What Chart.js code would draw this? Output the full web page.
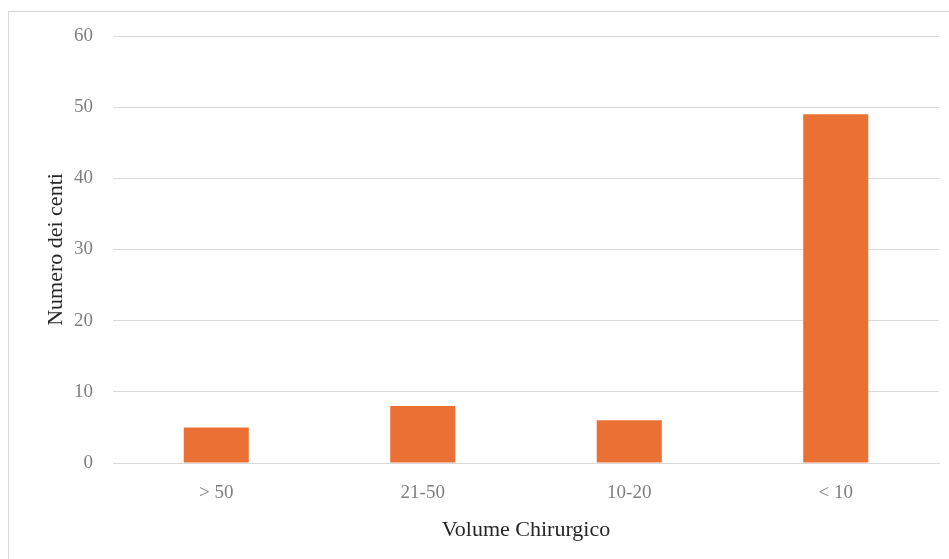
<!DOCTYPE html>
<html>
<head>
<meta charset="utf-8">
<script src="https://cdn.jsdelivr.net/npm/chart.js@4"></script>
<style>
  html, body { margin: 0; padding: 0; background: #fff; overflow: hidden; }
  #frame { position: absolute; left: 8px; top: 11px; width: 1000px; height: 600px; border: 1px solid #d9d9d9; }
  #wrap { position: absolute; left: 0; top: 0; width: 949px; height: 559px; }
</style>
</head>
<body>
<div id="frame"></div>
<div id="wrap"><canvas id="chart"></canvas></div>
<script>
// Volume chirurgico per centro
const categories = ['> 50', '21-50', '10-20', '< 10'];
const centri = [5, 8, 6, 49];
const yTicks = [0, 10, 20, 30, 40, 50, 60];

const ctx = document.getElementById('chart').getContext('2d');
const chart = new Chart(ctx, {
    type: 'bar',
    data: {
        labels: categories,
        datasets: [{
            label: 'Numero dei centri',
            data: centri,
            backgroundColor: '#ea7133',
            borderWidth: 0,
            categoryPercentage: 1,
            barPercentage: 0.315,
        }]
    },
    options: {
        responsive: true,
        maintainAspectRatio: false,
        animation: false,
        layout: { padding: { left: 39, right: 10, top: 36, bottom: 12 } },
        plugins: { legend: { display: false }, tooltip: { enabled: false } },
        scales: {
            x: {
                grid: { display: false },
                border: { color: '#d9d9d9', width: 1 },
                ticks: { color: '#7f7f7f', padding: 11, font: { family: 'Liberation Serif', size: 19 } },
                title: { display: true, text: 'Volume Chirurgico', color: '#262626', padding: { top: 10 }, font: { family: 'Liberation Serif', size: 22 } },
                afterFit: function (scale) { scale.height = 559 - 463 - 12; }
            },
            y: {
                min: 0,
                max: 60,
                afterBuildTicks: function (scale) { scale.ticks = yTicks.map(v => ({ value: v })); },
                grid: { color: '#d9d9d9', lineWidth: 1, drawTicks: false },
                border: { display: false },
                ticks: { color: '#7f7f7f', padding: 20, font: { family: 'Liberation Serif', size: 19 } },
                title: { display: true, text: 'Numero dei centi', color: '#262626', padding: { bottom: 10 }, font: { family: 'Liberation Serif', size: 22 } },
                afterFit: function (scale) { scale.width = 113 - 39; }
            }
        }
    }
});
</script>
</body>
</html>
